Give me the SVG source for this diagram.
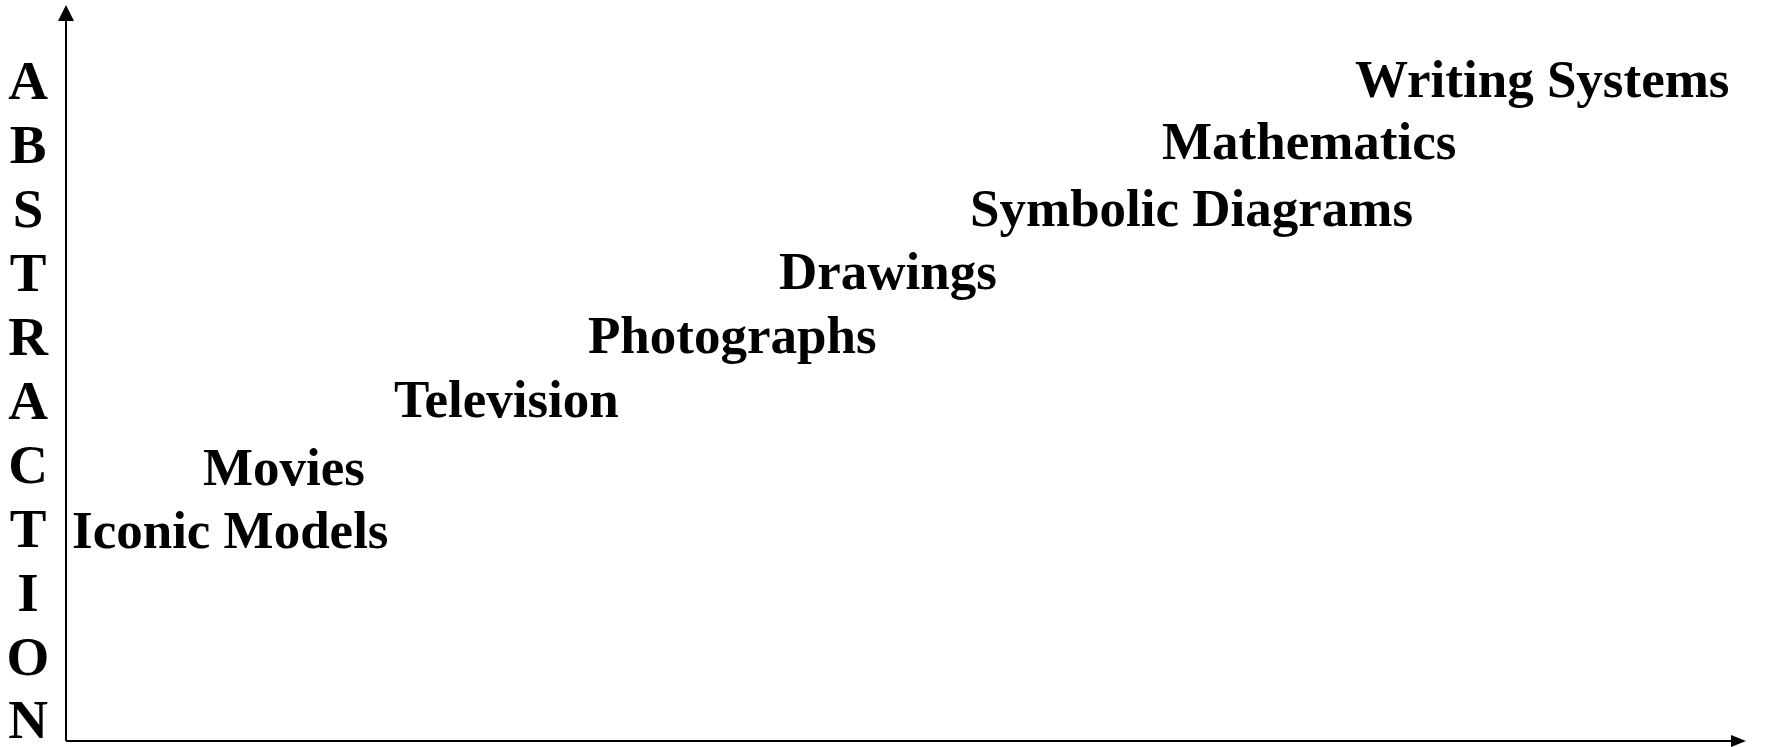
<svg xmlns="http://www.w3.org/2000/svg" width="1765" height="747" viewBox="0 0 1765 747">
<style>
text { font-family: "Liberation Serif", "Times New Roman", serif; font-weight: bold; fill: #000; }
.lbl { font-size: 53px; }
.axis { font-size: 55px; text-anchor: middle; }
.ax { stroke: #000; stroke-width: 2; fill: none; }
</style>
<rect width="1765" height="747" fill="#fff"/>
<g id="connectors">
<line class="ax" x1="66" y1="741" x2="66" y2="20"/>
<polygon points="66,5 58,21 74,21" fill="#000"/>
<line class="ax" x1="66" y1="741" x2="1732" y2="741"/>
<polygon points="1746,741 1731,735 1731,747" fill="#000"/>
</g>
<g id="axis-label">
<text class="axis" x="28" y="99">A</text>
<text class="axis" x="28" y="163">B</text>
<text class="axis" x="28" y="227">S</text>
<text class="axis" x="28" y="291">T</text>
<text class="axis" x="28" y="355">R</text>
<text class="axis" x="28" y="419">A</text>
<text class="axis" x="28" y="483">C</text>
<text class="axis" x="28" y="547">T</text>
<text class="axis" x="28" y="611">I</text>
<text class="axis" x="28" y="675">O</text>
<text class="axis" x="28" y="738">N</text>
</g>
<g id="iconic-models"><text class="lbl" x="72" y="548">Iconic Models</text></g>
<g id="movies"><text class="lbl" x="203" y="485">Movies</text></g>
<g id="television"><text class="lbl" x="394" y="417">Television</text></g>
<g id="photographs"><text class="lbl" x="588" y="353">Photographs</text></g>
<g id="drawings"><text class="lbl" x="779" y="289">Drawings</text></g>
<g id="symbolic-diagrams"><text class="lbl" x="970" y="226">Symbolic Diagrams</text></g>
<g id="mathematics"><text class="lbl" x="1162" y="159">Mathematics</text></g>
<g id="writing-systems"><text class="lbl" x="1355" y="97">Writing Systems</text></g>
</svg>
